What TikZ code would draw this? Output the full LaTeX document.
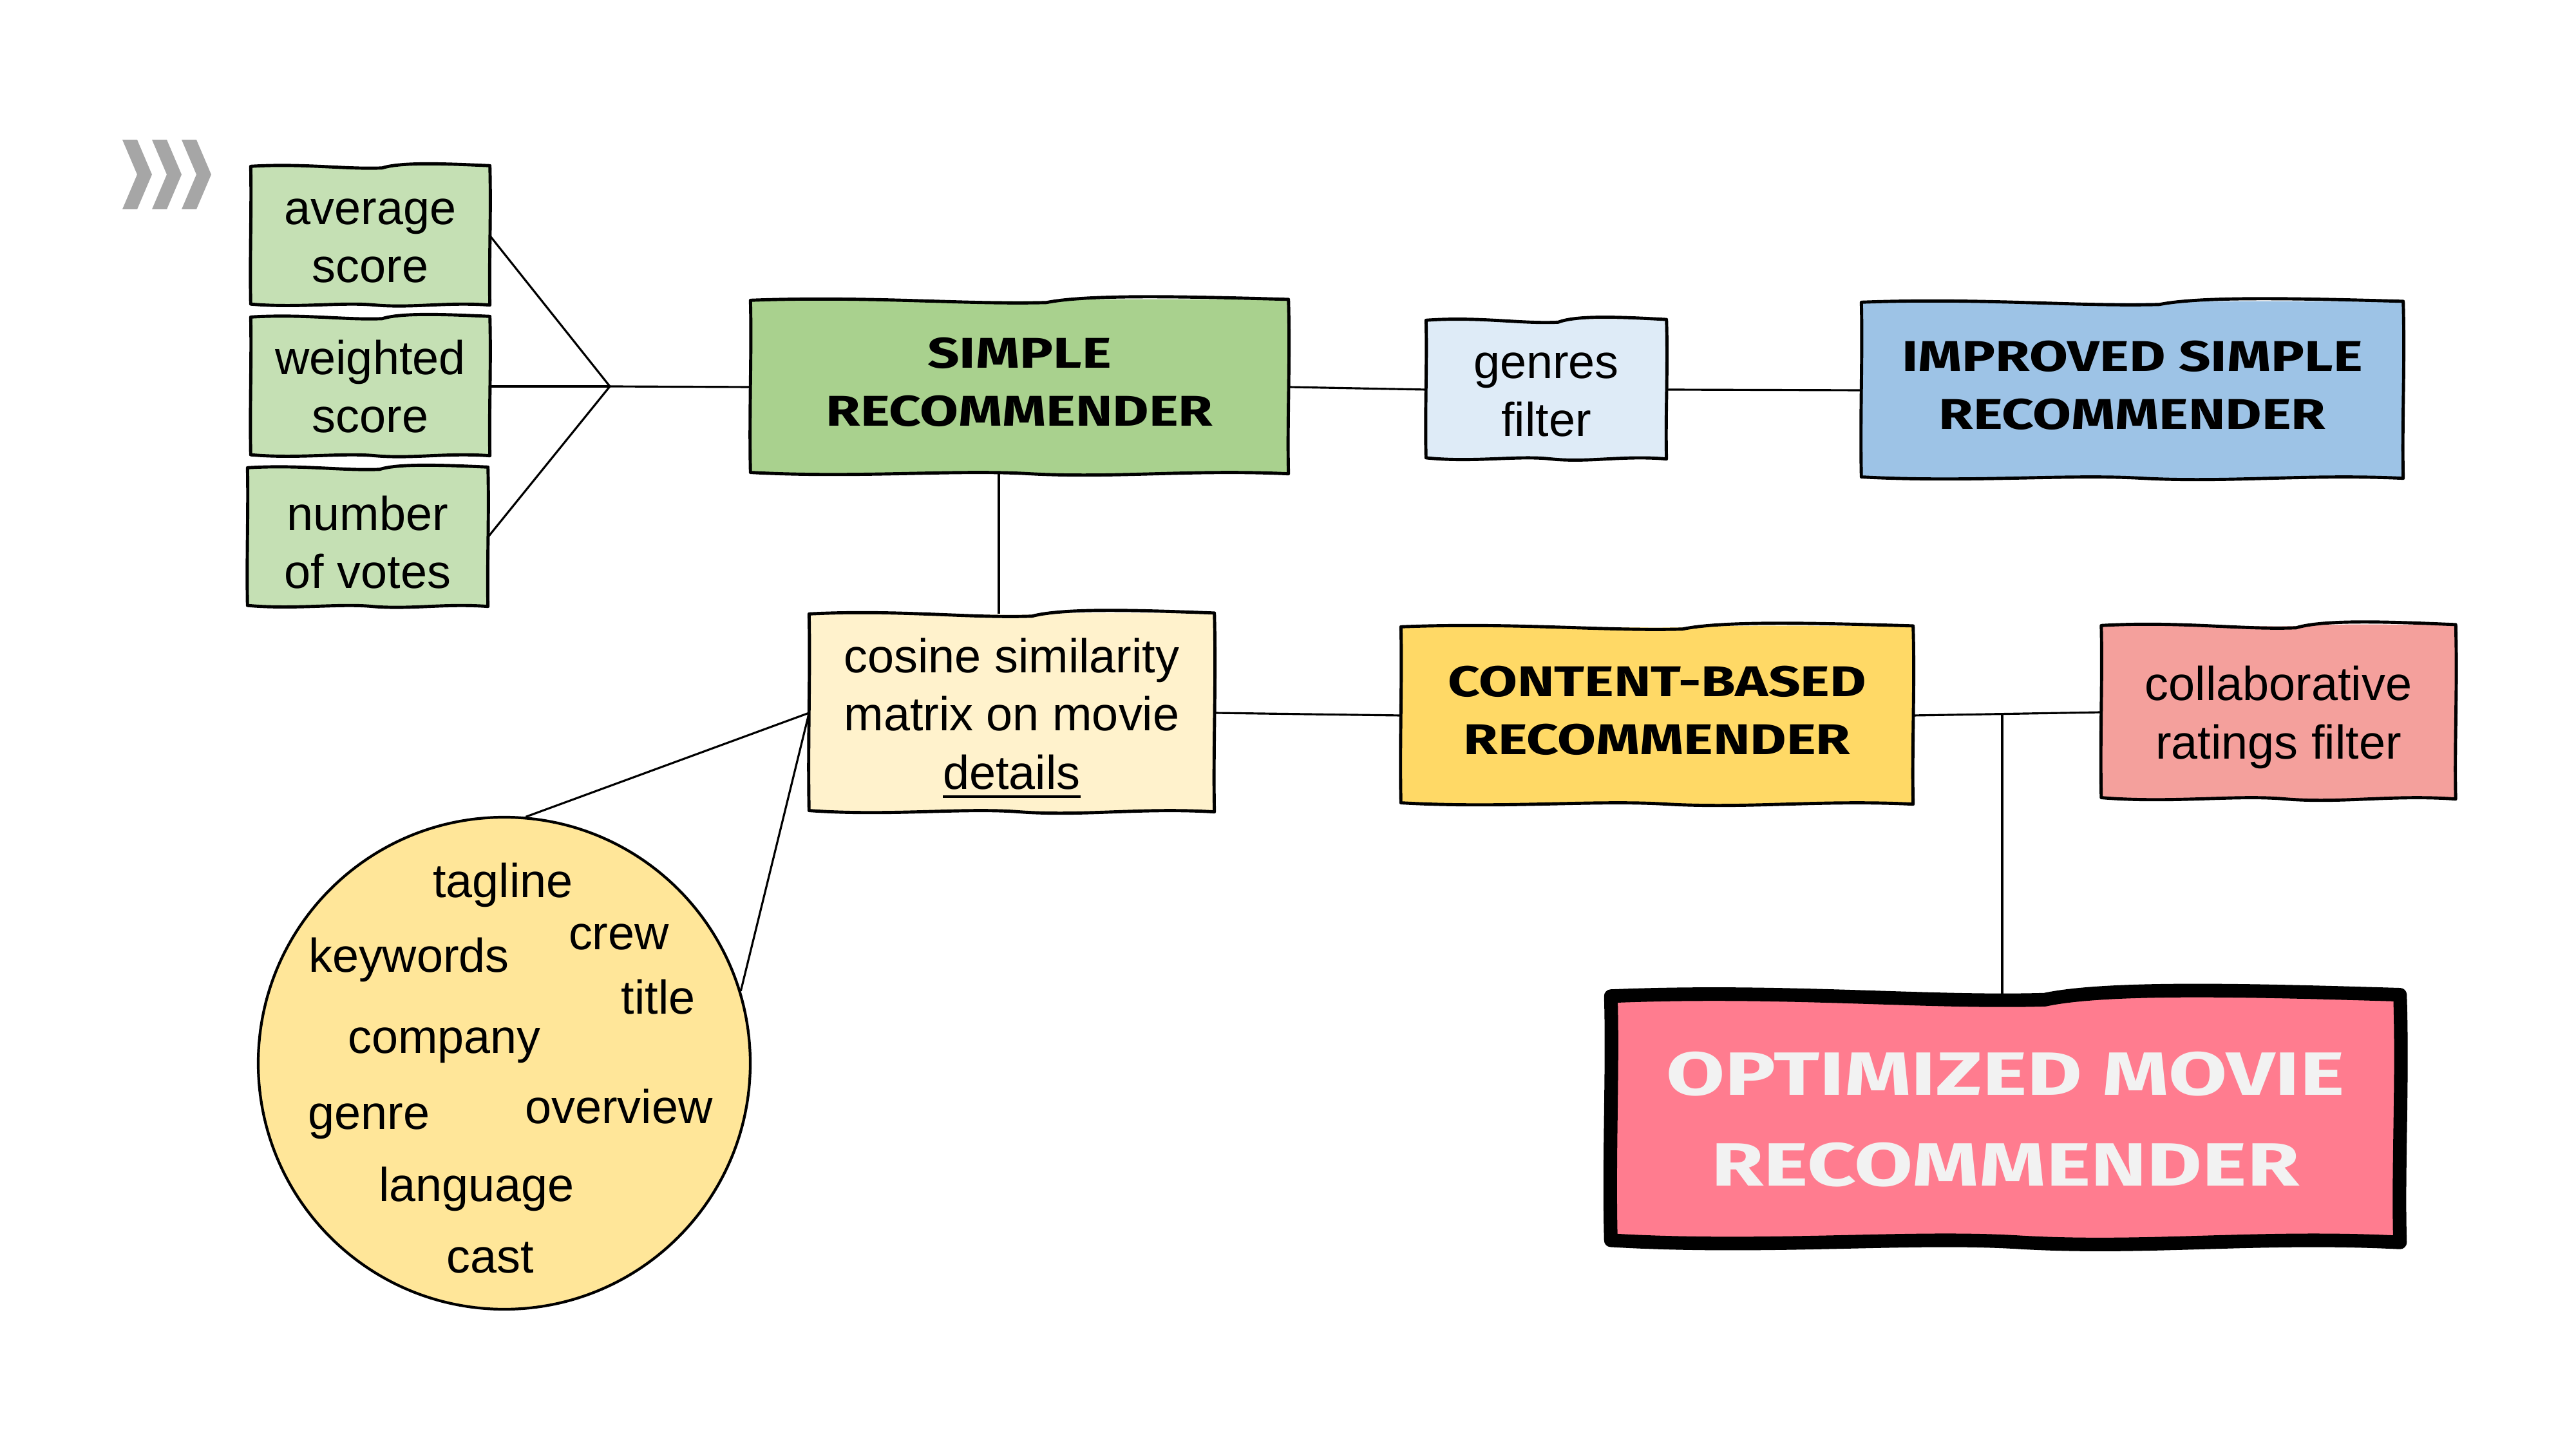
\documentclass[tikz,border=0pt]{standalone}
\usepackage{fontspec}
\setmainfont{Liberation Sans}
\newfontfamily\handfont[FakeStretch=1.3]{Fira Sans}
\newfontfamily\bighand[FakeStretch=1.39]{Fira Sans}
\usetikzlibrary{calc}
\pgfdeclarelayer{bg}
\pgfsetlayers{bg,main}
\definecolor{lgreen}{HTML}{C5E0B4}
\definecolor{sgreen}{HTML}{A9D18E}
\definecolor{lblue}{HTML}{DEEBF7}
\definecolor{mblue}{HTML}{9DC3E6}
\definecolor{lyellow}{HTML}{FFF2CC}
\definecolor{myellow}{HTML}{FFD966}
\definecolor{salmon}{HTML}{F4A09C}
\definecolor{optpink}{HTML}{FF7C8F}
\definecolor{optwhite}{HTML}{F2F2F2}
\definecolor{bagyellow}{HTML}{FFE699}
\definecolor{chevgray}{HTML}{A6A6A6}
\newcommand{\myul}[1]{\setbox0\hbox{#1}\rlap{\rule[-4pt]{\wd0}{1.3pt}}\box0}
% wavy outline of node #1 with amplitude #2 (cm)
\newcommand{\skpath}[2]{%
 (#1.north west)
 .. controls ($(#1.north west)!0.22!(#1.north east)+(0,#2)$) and ($(#1.north west)!0.40!(#1.north east)+(0,-#2)$) .. ($(#1.north west)!0.55!(#1.north east)+(0,-0.5*#2)$)
 .. controls ($(#1.north west)!0.63!(#1.north east)+(0,1.4*#2)$) and ($(#1.north west)!0.82!(#1.north east)+(0,0.8*#2)$) .. ($(#1.north east)+(0,0.2*#2)$)
 .. controls ($(#1.north east)!0.35!(#1.south east)+(0.4*#2,0)$) and ($(#1.north east)!0.7!(#1.south east)+(-0.3*#2,0)$) .. (#1.south east)
 .. controls ($(#1.south east)!0.18!(#1.south west)+(0,#2)$) and ($(#1.south east)!0.32!(#1.south west)+(0,-#2)$) .. ($(#1.south east)!0.48!(#1.south west)$)
 .. controls ($(#1.south east)!0.62!(#1.south west)+(0,#2)$) and ($(#1.south east)!0.80!(#1.south west)+(0,-#2)$) .. ($(#1.south west)+(0,0.3*#2)$)
 .. controls ($(#1.south west)!0.35!(#1.north west)+(-0.3*#2,0)$) and ($(#1.south west)!0.7!(#1.north west)+(0.3*#2,0)$) .. (#1.north west)
 -- cycle}
% hand-drawn box behind node #1: fill #2, line width #3, wave amplitude #4 (cm)
\newcommand{\skbox}[4]{%
\begin{pgfonlayer}{bg}
\fill[#2] \skpath{#1}{0.3*#4};
\draw[black, line width=#3, line join=round] \skpath{#1}{#4};
\end{pgfonlayer}}
\begin{document}
\begin{tikzpicture}
\useasboundingbox (0,0) rectangle (40,-22.5);
\tikzset{
  body/.style={font=\fontsize{21}{25.7}\selectfont, inner sep=0pt, align=center, text=black},
  head/.style={font=\handfont\bfseries\fontsize{19}{25.6}\selectfont,
    execute at end node={\rule[-0.16cm]{0pt}{0pt}}},
  box/.style={inner sep=0pt, align=center, text=black},
  conn/.style={line width=0.9pt, draw=black},
  word/.style={font=\fontsize{21}{25.7}\selectfont, anchor=base, inner sep=0pt},
  chev/.style={fill=chevgray},
}
\def\dn{-0.08}
% chevrons
\foreach \i in {0,1,2}{
  \fill[chev] ({1.90+0.46*\i},-2.17) -- ++(0.23,0) -- ++(0.23,-0.54) -- ++(-0.23,-0.54)
    -- ++(-0.23,0) -- ++(0.23,0.54) -- cycle;
}
% input boxes (frame node + text node)
\node[box, minimum width=3.70cm, minimum height=2.14cm] (avg) at (5.75,-3.66) {};
\node[body] (avgt) at ($(avg)+(0,\dn)$) {average\\score};
\node[box, minimum width=3.70cm, minimum height=2.14cm] (wts) at (5.75,-6.00) {};
\node[body] (wtst) at ($(wts)+(0,0)$) {weighted\\score};
\node[box, minimum width=3.72cm, minimum height=2.14cm] (nv) at (5.71,-8.34) {};
\node[body] (nvt) at ($(nv)+(0,\dn)$) {number\\of votes};
% main boxes
\node[box, head, minimum width=8.34cm, minimum height=2.68cm] (simple) at (15.83,-6.01) {SIMPLE\\RECOMMENDER};
\node[box, minimum width=3.72cm, minimum height=2.14cm] (genres) at (24.01,-6.05) {};
\node[body] (genrest) at ($(genres)+(0,\dn)$) {genres\\filter};
\node[box, head, minimum width=8.40cm, minimum height=2.72cm] (improved) at (33.11,-6.06) {IMPROVED SIMPLE\\RECOMMENDER};
\node[box, minimum width=6.28cm, minimum height=3.06cm] (cosine) at (15.71,-11.07) {};
\node[body] (cosinet) at ($(cosine)+(0,\dn)$) {cosine similarity\\matrix on movie\\\myul{details}};
\node[box, head, minimum width=7.94cm, minimum height=2.74cm] (content) at (25.73,-11.11) {CONTENT-BASED\\RECOMMENDER};
\node[box, minimum width=5.49cm, minimum height=2.68cm] (collab) at (35.38,-11.06) {};
\node[body] (collabt) at ($(collab)+(0,\dn)$) {collaborative\\ratings filter};
\node[box, text=optwhite, minimum width=12.24cm, minimum height=3.81cm,
  font=\bighand\bfseries\fontsize{27}{40}\selectfont] (opt) at (31.14,-17.38) {OPTIMIZED MOVIE\\RECOMMENDER};
\skbox{avg}{lgreen}{1.4pt}{0.05}
\skbox{wts}{lgreen}{1.4pt}{0.05}
\skbox{nv}{lgreen}{1.4pt}{0.05}
\skbox{simple}{sgreen}{1.4pt}{0.07}
\skbox{genres}{lblue}{1.4pt}{0.06}
\skbox{improved}{mblue}{1.4pt}{0.07}
\skbox{cosine}{lyellow}{1.4pt}{0.07}
\skbox{content}{myellow}{1.4pt}{0.07}
\skbox{collab}{salmon}{1.4pt}{0.07}
\skbox{opt}{optpink}{6pt}{0.11}
% bag of words
\node[circle, draw=black, line width=1.2pt, fill=bagyellow, minimum size=7.64cm, inner sep=0pt] (bag) at (7.83,-16.51) {};
\node[word] (w1) at (7.81,-13.94) {tagline};
\node[word] (w2) at (9.61,-14.75) {crew};
\node[word] (w3) at (6.35,-15.10) {keywords};
\node[word] (w4) at (10.22,-15.75) {title};
\node[word] (w5) at (6.90,-16.35) {company};
\node[word] (w6) at (5.73,-17.53) {genre};
\node[word] (w7) at (9.61,-17.44) {overview};
\node[word] (w8) at (7.40,-18.65) {language};
\node[word] (w9) at (7.61,-19.76) {cast};
% junctions
\coordinate (j1) at (9.47,-6.0);
\coordinate (j2) at (31.09,-11.09);
\coordinate (j3) at (15.51,-8.5);
% connectors
\draw[conn] (avg.east) -- (j1);
\draw[conn] (wts.east) -- (j1);
\draw[conn] (nv.east) -- (j1);
\draw[conn] (j1) -- (simple.west);
\draw[conn] (simple.east) -- (genres.west);
\draw[conn] (genres.east) -- (improved.west);
\draw[conn] (simple.south -| j3) -- (cosine.north -| j3);
\draw[conn] (cosine.east) -- (content.west);
\draw[conn] (content.east) -- (collab.west);
\draw[conn] (j2) -- (opt.north -| j2);
\draw[conn] (cosine.west) -- (bag.85);
\draw[conn] (cosine.west) -- (bag.17);
\end{tikzpicture}
\end{document}
